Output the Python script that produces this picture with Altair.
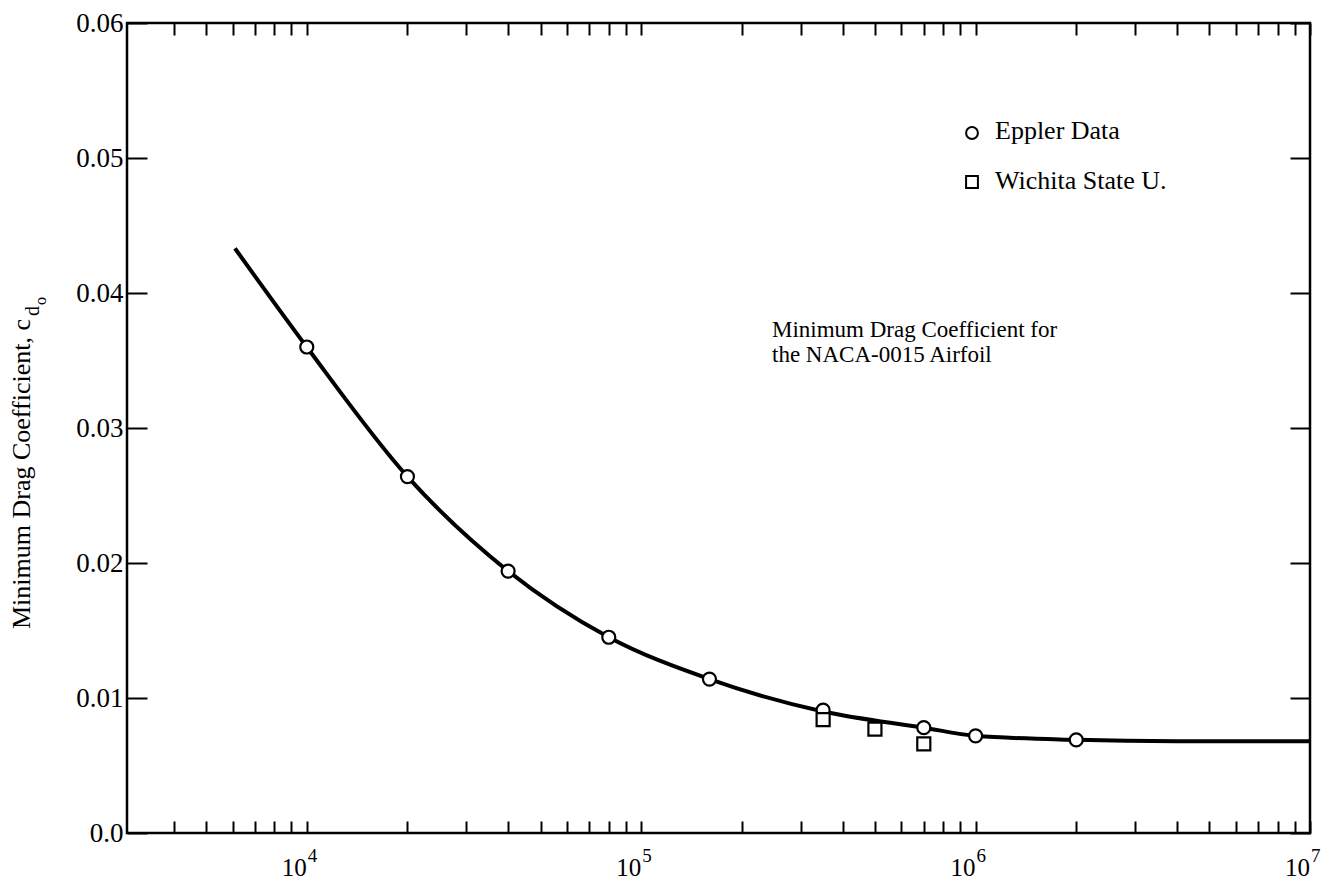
import altair as alt
import pandas as pd

FONT = "Liberation Serif"

# ---- data ----
curve_re = [6100, 10000, 20000, 40000, 80000, 160000, 350000, 700000, 1000000,
            2000000, 4000000, 10000000]
curve_cd = [0.0433, 0.0360, 0.0264, 0.0194, 0.0145, 0.0114, 0.0090, 0.0078, 0.0072,
            0.0069, 0.0068, 0.0068]

eppler_re = [1e4, 2e4, 4e4, 8e4, 1.6e5, 3.5e5, 7e5, 1e6, 2e6]
eppler_cd = [0.0360, 0.0264, 0.0194, 0.0145, 0.0114, 0.0091, 0.0078, 0.0072, 0.0069]

wichita_re = [3.5e5, 5e5, 7e5]
wichita_cd = [0.0084, 0.0077, 0.0066]

series_names = ["Eppler Data", "Wichita State U."]
series_shapes = ["circle", "square"]

x_ticks = [4000, 5000, 6000, 7000, 8000, 9000,
           10000, 20000, 30000, 40000, 50000, 60000, 70000, 80000, 90000,
           100000, 200000, 300000, 400000, 500000, 600000, 700000, 800000, 900000,
           1000000, 2000000, 3000000, 4000000, 5000000, 6000000, 7000000, 8000000, 9000000,
           10000000]
x_label_values = [1e4, 1e5, 1e6, 1e7]
x_label_base = ["10", "10", "10", "10"]
x_label_exp = ["4", "5", "6", "7"]
y_ticks = [0.0, 0.01, 0.02, 0.03, 0.04, 0.05, 0.06]

annotation_lines = ["Minimum Drag Coefficient for", "the NACA-0015 Airfoil"]
y_title_main = "Minimum Drag Coefficient, c"
y_title_sub1 = "d"
y_title_sub2 = "o"

# ---- tables ----
curve_df = pd.DataFrame({"re": curve_re, "cd": curve_cd})
pts_df = pd.DataFrame({
    "re": eppler_re + wichita_re,
    "cd": eppler_cd + wichita_cd,
    "series": [series_names[0]] * len(eppler_re) + [series_names[1]] * len(wichita_re),
})
xlab_df = pd.DataFrame({"re": x_label_values, "base": x_label_base, "exp": x_label_exp})

W, H = 1183, 810
xscale = alt.Scale(type="log", domain=[2900, 1e7], nice=False)
yscale = alt.Scale(domain=[0, 0.06], nice=False, zero=False)

y_label_expr = "datum.value == 0 ? '0.0' : format(datum.value, '.2f')"

common_axis = dict(grid=False, domain=False, title=None, tickColor="black", tickWidth=2,
                   labelFont=FONT, labelColor="black", labelOverlap=False, labelFlush=False,
                   labelBound=False)

x_bottom = alt.Axis(orient="bottom", values=x_ticks, labels=False,
                    tickSize=alt.ExprRef(expr="-12"), **common_axis)
x_top = alt.Axis(orient="top", values=x_ticks, labels=False,
                 tickSize=alt.ExprRef(expr="-12"), **common_axis)
y_left = alt.Axis(orient="left", values=y_ticks, labelExpr=y_label_expr,
                  tickSize=alt.ExprRef(expr="-20"), labelPadding=24, labelFontSize=27,
                  **common_axis)
y_right = alt.Axis(orient="right", values=y_ticks, labels=False,
                   tickSize=alt.ExprRef(expr="-20"), **common_axis)

line = alt.Chart(curve_df).mark_line(color="black", strokeWidth=4, interpolate="monotone").encode(
    x=alt.X("re:Q", scale=xscale, axis=x_bottom),
    y=alt.Y("cd:Q", scale=yscale, axis=y_left),
)

hidden = alt.Chart(curve_df).mark_line(strokeOpacity=0).encode(
    x=alt.X("re:Q", scale=xscale, axis=x_top),
    y=alt.Y("cd:Q", scale=yscale, axis=y_right),
)

points = alt.Chart(pts_df).mark_point(filled=False, fill="white", fillOpacity=1,
                                      stroke="black", strokeWidth=2.2, size=170,
                                      opacity=1).encode(
    x=alt.X("re:Q", scale=xscale, axis=None),
    y=alt.Y("cd:Q", scale=yscale, axis=None),
    shape=alt.Shape("series:N",
                    scale=alt.Scale(domain=series_names, range=series_shapes),
                    legend=None),
)

xlab_base = alt.Chart(xlab_df).mark_text(font=FONT, fontSize=25, align="right",
                                         baseline="alphabetic", color="black").encode(
    x=alt.X("re:Q", scale=xscale, axis=None),
    y=alt.value(H + 43),
    text="base:N",
)
xlab_exp = alt.Chart(xlab_df).mark_text(font=FONT, fontSize=19, align="left", dx=1,
                                        baseline="alphabetic", color="black").encode(
    x=alt.X("re:Q", scale=xscale, axis=None),
    y=alt.value(H + 29),
    text="exp:N",
)


def txt(t, x, y, size, angle=0):
    return alt.Chart(pd.DataFrame({"t": [t]})).mark_text(
        font=FONT, fontSize=size, angle=angle, align="left", baseline="alphabetic",
        color="black").encode(x=alt.value(x), y=alt.value(y), text="t:N")


def legend_symbol(shape, x, y):
    return alt.Chart(pd.DataFrame({"s": [shape]})).mark_point(
        shape=shape, filled=False, fill="white", fillOpacity=1, stroke="black",
        strokeWidth=2, size=140, opacity=1).encode(x=alt.value(x), y=alt.value(y))


title_main = txt(y_title_main, -97, 606, 26, angle=270)
title_d = txt(y_title_sub1, -88, 293, 20, angle=270)
title_o = txt(y_title_sub2, -81, 282, 16, angle=270)
ann1 = txt(annotation_lines[0], 645, 314, 23)
ann2 = txt(annotation_lines[1], 645, 339, 23)

leg_sym1 = legend_symbol(series_shapes[0], 845, 110)
leg_sym2 = legend_symbol(series_shapes[1], 845, 159)
leg_txt1 = txt(series_names[0], 868, 116, 26)
leg_txt2 = txt(series_names[1], 868, 166, 26)

chart = alt.layer(line, hidden, points, xlab_base, xlab_exp,
                  title_main, title_d, title_o, ann1, ann2,
                  leg_sym1, leg_sym2, leg_txt1, leg_txt2).resolve_axis(
    x="independent", y="independent"
).properties(
    width=W, height=H,
    autosize=alt.AutoSizeParams(type="none"),
    padding={"left": 119, "top": 15, "right": 20, "bottom": 52},
    background="white",
).configure_view(stroke="black", strokeWidth=2.5)

chart.save("out.html", embed_options={"renderer": "svg", "actions": False})
